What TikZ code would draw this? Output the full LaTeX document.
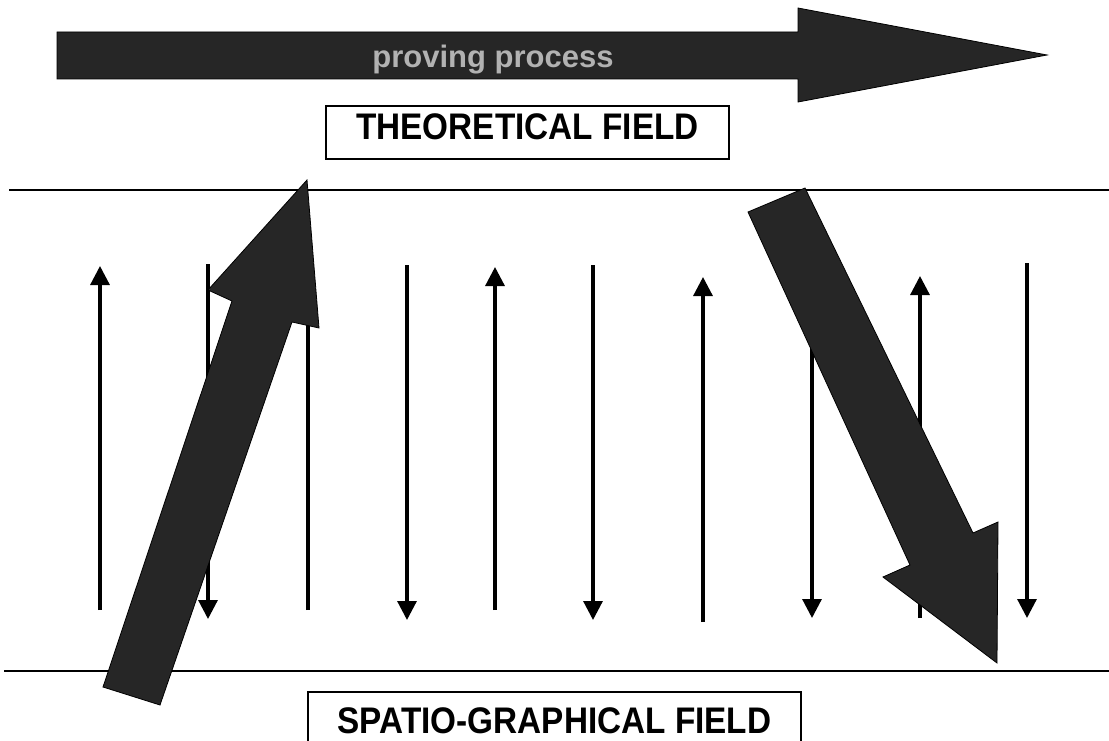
\documentclass[tikz,border=0pt]{standalone}
\usepackage{fontspec}
\setmainfont{Liberation Sans}
\newfontfamily\fieldfont{Liberation Sans}[FakeStretch=0.9]
\usetikzlibrary{arrows.meta}

\tikzset{
  field/.style={draw, line width=2pt, inner sep=0pt, font=\fieldfont\fontsize{37}{42}\selectfont\bfseries},
  vecarrow/.style={line width=3.2pt, -{Triangle[length=19pt,width=19pt]}},
  bigarrow/.style={fill=black!85, draw=black, line width=0.8pt},
}

\begin{document}
\begin{tikzpicture}[x=1pt, y=-1pt]
  \useasboundingbox (0,0) rectangle (1109,741);

  % Field borders
  \draw[line width=2.4pt] (9,190) -- (1109,190);
  \draw[line width=2.4pt] (4,671) -- (1109,671);

  % Field labels
  \node[field, minimum width=403pt, text height=34pt, text depth=19pt] (theo) at (527.5,132.5) {THEORETICAL FIELD};
  \node[field, minimum width=493pt, text height=41pt, text depth=20pt] (spatio) at (554.5,722.5) {SPATIO-GRAPHICAL FIELD};

  % Thin arrows between the fields
  \foreach \i/\x/\yt/\yb in {1/100/266/610, 2/208/264/619, 3/308/280/610, 4/407/265/620, 5/495/267/610,
                             6/593/265/620, 7/703/277/622, 8/812/265/618, 9/920/276/618, 10/1027/263/618} {
    \coordinate (top\i) at (\x,\yt);
    \coordinate (bot\i) at (\x,\yb);
  }
  \foreach \i in {1,5,7,9}
    \draw[vecarrow] (bot\i) -- (top\i);
  \foreach \i in {2,4,6,8,10}
    \draw[vecarrow] (top\i) -- (bot\i);
  \draw[line width=3.2pt] (bot3) -- (top3);

  % Proving process
  \draw[bigarrow] (57,32) -- (798,32) -- (798,8) -- (1047,55) -- (798,102) -- (798,79) -- (57,79) -- cycle;
  \node[font=\fontsize{31}{36}\selectfont\bfseries, text=black!30, anchor=base] (proving) at (493,68) {proving process};

  % Upward and downward moves
  \draw[bigarrow] (103,687) -- (232,301) -- (208,290) -- (307,180) -- (319,328) -- (292,322) -- (160,705) -- cycle;
  \draw[bigarrow] (748,212) -- (805,188) -- (973,533) -- (998,522) -- (997,663) -- (883,577) -- (910,565) -- cycle;
\end{tikzpicture}
\end{document}
